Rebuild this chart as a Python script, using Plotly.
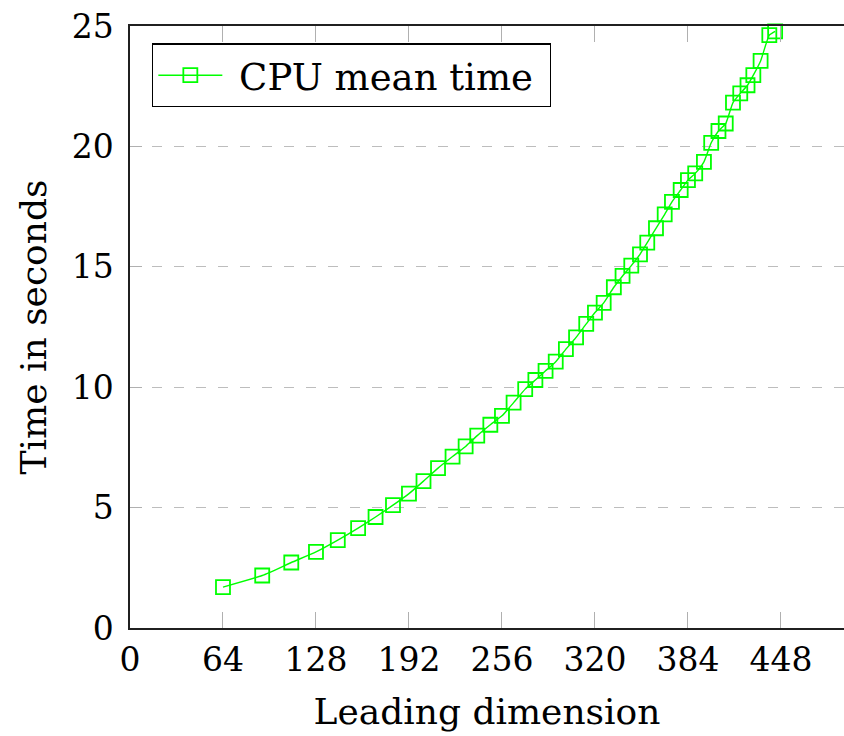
import plotly.graph_objects as go

leading_dim = [64, 91, 111, 128, 143, 157, 169, 181, 192, 202, 212, 222, 231, 239, 248, 256,
               264, 272, 279, 286, 293, 300, 307, 314, 320, 326, 333, 339, 345, 351, 356, 362,
               368, 373, 379, 384, 389, 395, 400, 405, 410, 415, 420, 425, 429, 434, 440, 444]
cpu_mean_time = [1.70, 2.18, 2.72, 3.16, 3.65, 4.15, 4.61, 5.10, 5.58, 6.10, 6.64, 7.12,
                 7.54, 7.99, 8.44, 8.81, 9.36, 9.92, 10.30, 10.68, 11.06, 11.58, 12.07, 12.63,
                 13.10, 13.50, 14.15, 14.62, 15.05, 15.52, 16.00, 16.60, 17.18, 17.70, 18.19, 18.60,
                 18.88, 19.36, 20.15, 20.64, 20.95, 21.82, 22.20, 22.54, 22.96, 23.55, 24.62, 24.78]
x_ticks = [0, 64, 128, 192, 256, 320, 384, 448]
y_ticks = [0, 5, 10, 15, 20, 25]

FONT = "DejaVu Serif"
GREEN = "#00ff00"
NBSP = "\u00a0"

fig = go.Figure()
fig.add_trace(go.Scatter(
    x=leading_dim, y=cpu_mean_time, mode="lines+markers",
    name=NBSP + "CPU mean time" + NBSP,
    line=dict(color=GREEN, width=1.4, shape="spline", smoothing=0.5),
    marker=dict(symbol="square-open", size=14, color=GREEN, line=dict(width=1.8, color=GREEN)),
    cliponaxis=False,
))

fig.update_layout(
    width=844, height=736,
    margin=dict(l=130, r=0, t=26, b=108),
    paper_bgcolor="white", plot_bgcolor="white",
    font=dict(family=FONT, size=33, color="black"),
    showlegend=True,
    legend=dict(
        x=0.031, y=0.971, xanchor="left", yanchor="top",
        bgcolor="white", bordercolor="black", borderwidth=1.2,
        font=dict(family=FONT, size=37, color="black"),
        itemwidth=64,
    ),
    xaxis=dict(
        range=[0, 491.4], tickmode="array", tickvals=x_ticks,
        ticks="inside", ticklen=16, tickcolor="#b0b0b0", tickwidth=1.2,
        showline=True, linecolor="#202020", linewidth=1.5, mirror="ticks",
        showgrid=False, zeroline=False,
        tickfont=dict(family=FONT, size=33),
        ticklabelstandoff=2,
        title=dict(text="Leading dimension", font=dict(family=FONT, size=36), standoff=20),
    ),
    yaxis=dict(
        range=[0, 25], tickmode="array", tickvals=y_ticks,
        ticks="inside", ticklen=12, tickcolor="#b0b0b0", tickwidth=1.2,
        showline=True, linecolor="#202020", linewidth=1.5, mirror=False,
        showgrid=True, gridcolor="#bdbdbd", gridwidth=1.3, griddash="10px,12px",
        zeroline=False,
        tickfont=dict(family=FONT, size=33),
        ticklabelstandoff=8,
        title=dict(text="Time in seconds", font=dict(family=FONT, size=36), standoff=14),
    ),
)

fig.write_html("out.html")
